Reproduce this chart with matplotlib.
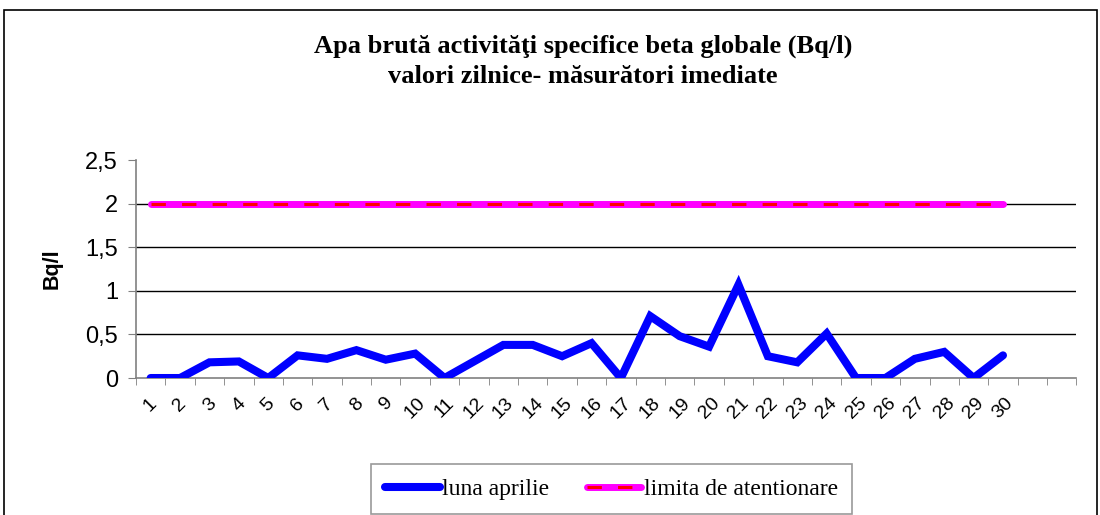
import numpy as np
import matplotlib.pyplot as plt
from matplotlib.legend_handler import HandlerTuple
from matplotlib.patches import Rectangle

# daily values, April
days = [str(d) for d in range(1, 31)] + ["", ""]
luna_aprilie = [0, 0, 0.18, 0.19, 0, 0.26, 0.22, 0.32, 0.21, 0.28,
                0, 0.19, 0.38, 0.38, 0.25, 0.40, 0, 0.71, 0.48, 0.36,
                1.07, 0.25, 0.18, 0.51, 0, 0, 0.22, 0.30, 0, 0.26]
limita = [2] * 30
yticks = [0, 0.5, 1, 1.5, 2, 2.5]
ytick_labels = ["0", "0,5", "1", "1,5", "2", "2,5"]

fig = plt.figure(figsize=(11, 5.15), dpi=100)
ax = fig.add_axes([0.1236, 0.266, 0.855, 0.423])

x = np.arange(len(luna_aprilie))
ax.plot(x, luna_aprilie, color="#0000ff", lw=5.8, solid_capstyle="round",
        solid_joinstyle="miter", zorder=4)
lim_bg, = ax.plot(x, limita, color="#ff00ff", lw=5.0, solid_capstyle="round", zorder=3)
lim_fg, = ax.plot(x, limita, color="#ff0000", lw=2.2, dashes=(4.7, 5.3), zorder=3.5)

ax.set_xlim(-0.5, len(days) - 0.5)
ax.set_ylim(0, 2.5)
ax.set_yticks(yticks)
ax.set_yticklabels(ytick_labels, fontsize=17, family="Liberation Sans")
ax.set_xticks(np.arange(len(days)))
ax.set_xticklabels(days, rotation=45, fontsize=14, family="Liberation Sans", ha="center")
ax.set_xticks(np.arange(len(days) + 1) - 0.5, minor=True)
ax.tick_params(axis="x", which="major", length=0, pad=12)
ax.tick_params(axis="x", which="minor", length=5, color="#808080", direction="out")
ax.tick_params(axis="y", length=6, color="#808080", pad=7)

for yv in yticks[1:-1]:
    ax.axhline(yv, color="black", lw=1, zorder=1)
for s in ["top", "right"]:
    ax.spines[s].set_visible(False)
ax.spines["left"].set_color("#808080")
ax.spines["bottom"].set_color("#808080")
ax.spines["left"].set_linewidth(1.2)
ax.spines["bottom"].set_linewidth(1.2)

ax.set_ylabel("Bq/l", fontsize=15.5, fontweight="bold", family="Liberation Sans", labelpad=16)

fig.text(0.530, 0.910, "Apa brută activităţi specifice beta globale (Bq/l)",
         ha="center", va="center", fontsize=19, fontweight="bold", family="Liberation Serif")
fig.text(0.530, 0.852, "valori zilnice- măsurători imediate",
         ha="center", va="center", fontsize=19, fontweight="bold", family="Liberation Serif")

blue_handle = plt.Line2D([], [], color="#0000ff", lw=5.8, solid_capstyle="round")
leg = fig.legend([blue_handle, (lim_bg, lim_fg)], ["luna aprilie", "limita de atentionare"],
                 loc="center", bbox_to_anchor=(0.556, 0.050), ncol=2, frameon=True,
                 fancybox=False, edgecolor="#808080", handlelength=2.3, handletextpad=0.1,
                 columnspacing=1.6, borderpad=0.6, borderaxespad=0,
                 handler_map={tuple: HandlerTuple(ndivide=1, pad=0)},
                 prop={"family": "Liberation Serif", "size": 17})
leg.get_frame().set_linewidth(1.2)

# outer chart border
fig.patches.append(Rectangle((4 / 1100, -0.1), 1093 / 1100, 1.1 - 10 / 515,
                             transform=fig.transFigure, fill=False, edgecolor="black",
                             lw=1.2))

fig.savefig("out.png", dpi=100)
